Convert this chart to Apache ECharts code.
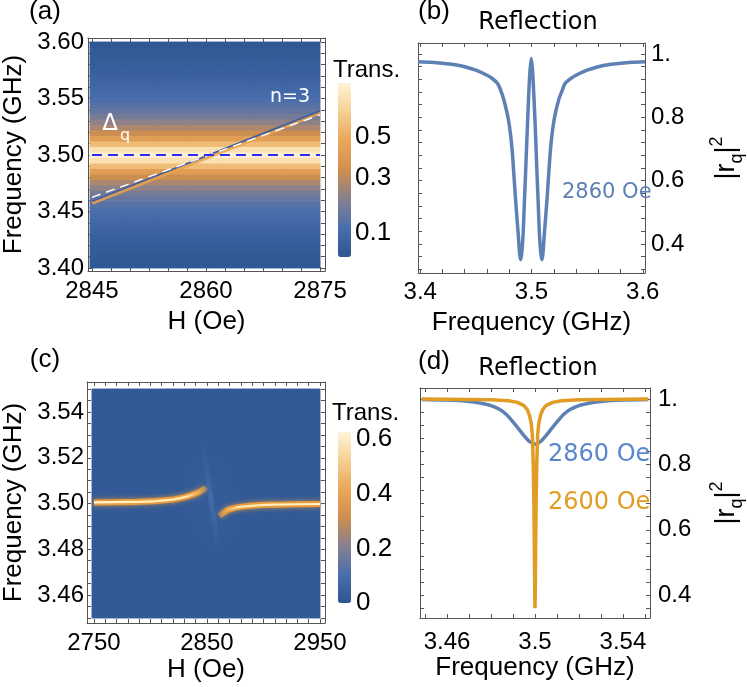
<!DOCTYPE html>
<html>
<head>
<meta charset="utf-8">
<script src="https://cdn.jsdelivr.net/npm/echarts@6/dist/echarts.min.js"></script>
<style>
html, body { margin: 0; padding: 0; background: #fff; }
#chart { width: 747px; height: 687px; }
</style>
</head>
<body>
<div id="chart"></div>
<script>
// ---- (a) transmission map: band profile vs frequency (same for every H column)
var freqA = [3.400, 3.405, 3.410, 3.415, 3.420, 3.425, 3.430, 3.435, 3.440, 3.445,
             3.450, 3.455, 3.460, 3.465, 3.470, 3.475, 3.480, 3.485, 3.490, 3.495,
             3.500, 3.505, 3.510, 3.515, 3.520, 3.525, 3.530, 3.535, 3.540, 3.545,
             3.550, 3.555, 3.560, 3.565, 3.570, 3.575, 3.580, 3.585, 3.590, 3.595, 3.600];
var transA = [0.050, 0.053, 0.057, 0.061, 0.066, 0.071, 0.077, 0.084, 0.093, 0.104,
              0.118, 0.135, 0.156, 0.183, 0.225, 0.272, 0.330, 0.420, 0.560, 0.720,
              0.800, 0.720, 0.560, 0.420, 0.330, 0.272, 0.225, 0.183, 0.156, 0.135,
              0.118, 0.104, 0.093, 0.084, 0.077, 0.071, 0.066, 0.061, 0.057, 0.053, 0.050];
var fieldA = [2845, 2850, 2855, 2860, 2865, 2870, 2875];
var modeA = [[2845, 3.459], [2875, 3.539]];
var modeEdgeA = [[2845, 3.4575], [2875, 3.5375]];
var nModeA = [[2845, 3.4625], [2875, 3.5355]];
var cavityA = [[2845, 3.50], [2875, 3.50]];

// ---- (b) reflection at 2860 Oe
var freqB = [3.398, 3.41, 3.42, 3.43, 3.44, 3.45, 3.46, 3.465, 3.4695, 3.4725, 3.4752, 3.4794, 3.4825, 3.4857,
             3.488, 3.4893, 3.4902, 3.4912, 3.4925, 3.4937, 3.4949, 3.4962, 3.4973, 3.4985, 3.4998,
             3.5011, 3.5023, 3.5035, 3.5047, 3.5059, 3.5071, 3.5084, 3.5094, 3.5103, 3.5116,
             3.5139, 3.5171, 3.5202, 3.5244, 3.5275, 3.5301, 3.535, 3.54, 3.55, 3.56, 3.57, 3.58, 3.59, 3.602];
var reflB = [0.976, 0.974, 0.971, 0.967, 0.960, 0.949, 0.933, 0.922, 0.907, 0.884, 0.855, 0.79, 0.70, 0.539,
             0.434, 0.37, 0.35, 0.37, 0.434, 0.54, 0.644, 0.76, 0.855, 0.94, 0.986,
             0.94, 0.855, 0.76, 0.644, 0.54, 0.434, 0.37, 0.35, 0.37, 0.434,
             0.539, 0.70, 0.79, 0.855, 0.884, 0.907, 0.922, 0.933, 0.949, 0.960, 0.967, 0.971, 0.974, 0.976];

// ---- (c) anticrossing map
var fieldC = [2750, 2775, 2800, 2825, 2850, 2875, 2900, 2925, 2950];
var freqC = [3.45, 3.475, 3.50, 3.525, 3.55];
var backgroundTransC = 0.02;
var branchLeftH = [2750, 2786, 2815, 2830, 2838, 2845, 2849];
var branchLeftF = [3.5005, 3.5007, 3.5015, 3.5028, 3.504, 3.5055, 3.507];
var branchRightH = [2861, 2864, 2870, 2886, 2909, 2950];
var branchRightF = [3.4945, 3.4958, 3.4975, 3.4989, 3.4995, 3.4998];
var glowC = [[2847, 3.525], [2860, 3.479]];

// ---- (d) reflection at 2860 Oe and 2600 Oe
var freqD1 = [3.4485, 3.46, 3.47, 3.475, 3.48, 3.484, 3.487, 3.489, 3.491, 3.493, 3.495, 3.497, 3.499, 3.5,
              3.501, 3.503, 3.505, 3.507, 3.509, 3.511, 3.513, 3.516, 3.52, 3.525, 3.53, 3.54, 3.5515];
var reflD1 = [0.999, 0.997, 0.993, 0.988, 0.980, 0.968, 0.953, 0.938, 0.922, 0.905, 0.888, 0.873, 0.864, 0.862,
              0.864, 0.873, 0.888, 0.905, 0.922, 0.938, 0.953, 0.968, 0.980, 0.988, 0.993, 0.997, 0.999];
var freqD2 = [3.4485, 3.47, 3.48, 3.488, 3.492, 3.495, 3.4965, 3.4975, 3.4983, 3.4988, 3.4992, 3.4995, 3.4997, 3.4999, 3.5,
              3.5001, 3.5003, 3.5005, 3.5008, 3.5012, 3.5017, 3.5025, 3.5035, 3.505, 3.508, 3.512, 3.52, 3.53, 3.5515];
var reflD2 = [1.0, 0.999, 0.998, 0.995, 0.990, 0.980, 0.968, 0.950, 0.925, 0.89, 0.80, 0.68, 0.55, 0.40, 0.36,
              0.40, 0.55, 0.68, 0.80, 0.89, 0.925, 0.950, 0.968, 0.980, 0.990, 0.995, 0.998, 0.999, 1.0];

// ---- ticks and tick labels
var ticksHA = [2845, 2847.5, 2850, 2852.5, 2855, 2857.5, 2860, 2862.5, 2865, 2867.5, 2870, 2872.5, 2875];
var labelsHA = [2845, 2860, 2875];
var ticksFA = [3.40, 3.41, 3.42, 3.43, 3.44, 3.45, 3.46, 3.47, 3.48, 3.49, 3.50,
               3.51, 3.52, 3.53, 3.54, 3.55, 3.56, 3.57, 3.58, 3.59, 3.60];
var labelsFA = [3.40, 3.45, 3.50, 3.55, 3.60];
var ticksFB = [3.40, 3.42, 3.44, 3.46, 3.48, 3.50, 3.52, 3.54, 3.56, 3.58, 3.60];
var labelsFB = [3.4, 3.5, 3.6];
var ticksRB = [0.32, 0.36, 0.40, 0.44, 0.48, 0.52, 0.56, 0.60, 0.64, 0.68, 0.72, 0.76, 0.80, 0.84, 0.88, 0.92, 0.96, 1.00];
var labelsR = [0.4, 0.6, 0.8, 1.0];
var ticksHC = [2750, 2760, 2770, 2780, 2790, 2800, 2810, 2820, 2830, 2840, 2850,
               2860, 2870, 2880, 2890, 2900, 2910, 2920, 2930, 2940, 2950];
var labelsHC = [2750, 2850, 2950];
var ticksFC = [3.45, 3.455, 3.46, 3.465, 3.47, 3.475, 3.48, 3.485, 3.49, 3.495, 3.50,
               3.505, 3.51, 3.515, 3.52, 3.525, 3.53, 3.535, 3.54, 3.545, 3.55];
var labelsFC = [3.46, 3.48, 3.50, 3.52, 3.54];
var ticksFD = [3.45, 3.46, 3.47, 3.48, 3.49, 3.50, 3.51, 3.52, 3.53, 3.54, 3.55];
var labelsFD = [3.46, 3.5, 3.54];
var ticksRD = [0.36, 0.40, 0.44, 0.48, 0.52, 0.56, 0.60, 0.64, 0.68, 0.72, 0.76, 0.80, 0.84, 0.88, 0.92, 0.96, 1.00];
var cbarLabelsA = [0.1, 0.3, 0.5];
var cbarLabelsC = [0, 0.2, 0.4, 0.6];
var cbarRangeA = [0.042, 0.82];
var cbarRangeC = [0, 0.626];
var cbarExpA = 0.6;   // colour bar (a) is not linear

var palette = ['#2c5591', '#4a6ead', '#86808f', '#cf8e4f', '#e9a75a', '#f5cf93', '#fff5d8'];
var blue = '#5e81b5', orange = '#e19c24';
var axisColor = '#555';
var labelFont = "'Liberation Sans', Arial, sans-serif";
var textFont = "'DejaVu Sans', Verdana, sans-serif";

function sA(t) { return Math.pow(t, cbarExpA); }
function zip(xs, ys) { return xs.map(function (x, i) { return [x, ys[i]]; }); }
function fmtR(v) { return v === 1 ? '1.' : v.toFixed(1); }

function valueAxis(grid, pos, min, max, ticks, labels, fmt, margin, extra) {
  var ax = {
    gridIndex: grid, type: 'value', position: pos, min: min, max: max,
    splitLine: { show: false },
    axisLine: { show: true, onZero: false, lineStyle: { color: axisColor, width: 1 } },
    axisTick: { show: true, inside: true, length: 4, customValues: ticks, lineStyle: { color: axisColor } },
    axisLabel: labels ? {
      show: true, customValues: labels, formatter: fmt, fontSize: 24, color: '#000',
      fontFamily: labelFont, margin: margin
    } : { show: false }
  };
  for (var k in extra) ax[k] = extra[k];
  return ax;
}
var nameStyle = { fontSize: 26, color: '#000', fontFamily: labelFont };
var rName = {
  name: '|r{q|q}|{s|2}', nameLocation: 'middle',
  nameTextStyle: {
    fontSize: 27, color: '#000', fontFamily: labelFont, lineHeight: 38,
    rich: {
      q: { fontSize: 18, fontFamily: labelFont, color: '#000', lineHeight: 14, verticalAlign: 'bottom' },
      s: { fontSize: 18, fontFamily: labelFont, color: '#000', lineHeight: 14, verticalAlign: 'top' }
    }
  }
};
function hiddenCat(grid, data) { return { gridIndex: grid, type: 'category', data: data.map(String), show: false }; }
function hiddenVal(grid) { return { gridIndex: grid, type: 'value', show: false }; }

// heatmap tables built from the arrays
var heatA = [];
freqA.forEach(function (f, i) {
  fieldA.forEach(function (h, j) { heatA.push([j, i, transA[i], sA(transA[i])]); });
});
var heatC = [];
freqC.forEach(function (f, i) {
  fieldC.forEach(function (h, j) { heatC.push([j, i, backgroundTransC]); });
});

function hGrad(stops) {
  return { type: 'linear', x: 0, y: 0, x2: 1, y2: 0, colorStops: stops };
}
function lineS(xi, yi, data, style, extra) {
  var s = { type: 'line', xAxisIndex: xi, yAxisIndex: yi, data: data, symbol: 'none',
            silent: true, animation: false, lineStyle: style, z: 3 };
  for (var k in extra) s[k] = extra[k];
  return s;
}
// heatmaps are drawn twice so the anti-aliased seams between cells disappear
function heat(ai, data) {
  return { type: 'heatmap', xAxisIndex: ai, yAxisIndex: ai, data: data, silent: true, z: 1 };
}

var chart = echarts.init(document.getElementById('chart'), null, { renderer: 'canvas' });
chart.setOption({
  backgroundColor: '#fff',
  animation: false,
  grid: [
    { left: 86, top: 38, width: 239, height: 233 },   // 0 (a) frame
    { left: 90, top: 42, width: 230, height: 226 },   // 1 (a) heatmap
    { left: 338, top: 83, width: 13, height: 174 },   // 2 (a) colour bar labels
    { left: 418, top: 43, width: 239, height: 230 },  // 3 (b)
    { left: 85, top: 382, width: 240, height: 241 },  // 4 (c) frame
    { left: 92, top: 389, width: 228, height: 229 },  // 5 (c) heatmap
    { left: 338, top: 432, width: 13, height: 171 },  // 6 (c) colour bar labels
    { left: 420, top: 388, width: 238, height: 230 }  // 7 (d)
  ],
  xAxis: [
    valueAxis(0, 'bottom', 2844.48, 2875.65, ticksHA, labelsHA, String, 8,
      { name: 'H (Oe)', nameLocation: 'middle', nameGap: 38, nameTextStyle: nameStyle }),
    valueAxis(0, 'top', 2844.48, 2875.65, ticksHA, null),
    hiddenCat(1, fieldA),
    hiddenVal(2),
    valueAxis(3, 'bottom', 3.398, 3.602, ticksFB, labelsFB, function (v) { return v.toFixed(1); }, 7,
      { name: 'Frequency (GHz)', nameLocation: 'middle', nameGap: 37, nameTextStyle: nameStyle }),
    valueAxis(3, 'top', 3.398, 3.602, ticksFB, null),
    valueAxis(4, 'bottom', 2743.9, 2954.4, ticksHC, labelsHC, String, 8,
      { name: 'H (Oe)', nameLocation: 'middle', nameGap: 34, nameTextStyle: nameStyle }),
    valueAxis(4, 'top', 2743.9, 2954.4, ticksHC, null),
    hiddenCat(5, fieldC),
    hiddenVal(6),
    valueAxis(7, 'bottom', 3.4477, 3.5523, ticksFD, labelsFD, function (v) { return String(+v.toFixed(2)); }, 12,
      { name: 'Frequency (GHz)', nameLocation: 'middle', nameGap: 34, nameTextStyle: nameStyle }),
    valueAxis(7, 'top', 3.4477, 3.5523, ticksFD, null)
  ],
  yAxis: [
    valueAxis(0, 'left', 3.3973, 3.6035, ticksFA, labelsFA, function (v) { return v.toFixed(2); }, 4,
      { name: 'Frequency (GHz)', nameLocation: 'middle', nameGap: 61, nameTextStyle: nameStyle }),
    valueAxis(0, 'right', 3.3973, 3.6035, ticksFA, null),
    hiddenCat(1, freqA),
    {
      gridIndex: 2, type: 'value', position: 'right', min: sA(cbarRangeA[0]), max: sA(cbarRangeA[1]),
      splitLine: { show: false }, axisLine: { show: false }, axisTick: { show: false },
      axisLabel: {
        customValues: cbarLabelsA.map(sA), margin: 4, fontSize: 26, color: '#000', fontFamily: labelFont,
        formatter: function (v) { return Math.pow(v, 1 / cbarExpA).toFixed(1); }
      }
    },
    valueAxis(3, 'left', 0.308, 1.035, ticksRB, null),
    valueAxis(3, 'right', 0.308, 1.035, ticksRB, labelsR, fmtR, 6, Object.assign({ nameGap: 63 }, rName)),
    valueAxis(4, 'left', 3.4478, 3.5531, ticksFC, labelsFC, function (v) { return v.toFixed(2); }, 3,
      { name: 'Frequency (GHz)', nameLocation: 'middle', nameGap: 60, nameTextStyle: nameStyle }),
    valueAxis(4, 'right', 3.4478, 3.5531, ticksFC, null),
    hiddenCat(5, freqC),
    {
      gridIndex: 6, type: 'value', position: 'right', min: cbarRangeC[0], max: cbarRangeC[1],
      splitLine: { show: false }, axisLine: { show: false }, axisTick: { show: false },
      axisLabel: {
        customValues: cbarLabelsC, margin: 5, fontSize: 26, color: '#000', fontFamily: labelFont,
        formatter: function (v) { return v === 0 ? '0' : v.toFixed(1); }
      }
    },
    valueAxis(7, 'left', 0.33, 1.034, ticksRD, null),
    valueAxis(7, 'right', 0.33, 1.034, ticksRD, labelsR, fmtR, 8, Object.assign({ nameGap: 58 }, rName))
  ],
  visualMap: [
    {
      type: 'continuous', seriesIndex: [0, 1], dimension: 3, min: sA(cbarRangeA[0]), max: sA(cbarRangeA[1]),
      inRange: { color: palette }, calculable: false, orient: 'vertical', hoverLink: false,
      left: 338, top: 83, itemWidth: 13, itemHeight: 174, padding: 0
    },
    {
      type: 'continuous', seriesIndex: [6, 7], dimension: 2, min: cbarRangeC[0], max: cbarRangeC[1],
      inRange: { color: palette }, calculable: false, orient: 'vertical', hoverLink: false,
      left: 338, top: 432, itemWidth: 13, itemHeight: 171, padding: 0
    }
  ],
  series: [
    // 0-1 (a) heatmap
    heat(2, heatA),
    heat(2, heatA),
    // 2-4 (a) mode lines
    lineS(0, 0, modeEdgeA, { color: '#eaa24c', width: 4, opacity: 0.85 }),
    lineS(0, 0, modeA, { color: '#3f5fa3', width: 1.8 }),
    lineS(0, 0, nModeA, { color: '#ffffff', width: 1.4, type: [9, 6] }),
    // 5 (b) reflection
    lineS(4, 5, zip(freqB, reflB), { color: blue, width: 3.5 }, { smooth: 0.25 }),
    // 6-7 (c) heatmap
    heat(8, heatC),
    heat(8, heatC),
    // 8 (c) diffuse glow along the steep mode
    lineS(6, 6, glowC, {
      width: 5, shadowBlur: 26, shadowColor: 'rgba(115,150,220,1)',
      color: { type: 'linear', x: 0, y: 0, x2: 0, y2: 1, colorStops: [
        { offset: 0, color: 'rgba(100,135,205,0)' },
        { offset: 0.5, color: 'rgba(100,135,205,0.3)' },
        { offset: 1, color: 'rgba(100,135,205,0)' }] }
    }, { z: 2 }),
    // 9-12 (c) hybrid branches
    lineS(6, 6, zip(branchLeftH, branchLeftF), {
      width: 6, shadowBlur: 5, shadowColor: 'rgba(233,156,60,0.8)',
      color: hGrad([{ offset: 0, color: '#e99c3c' }, { offset: 0.9, color: '#e99c3c' }, { offset: 1, color: 'rgba(220,150,70,0.35)' }])
    }, { smooth: true }),
    lineS(6, 6, zip(branchLeftH, branchLeftF), {
      width: 2.2,
      color: hGrad([{ offset: 0, color: '#fff3cc' }, { offset: 0.82, color: '#ffe9b0' }, { offset: 1, color: 'rgba(240,170,80,0)' }])
    }, { smooth: true }),
    lineS(6, 6, zip(branchRightH, branchRightF), {
      width: 6, shadowBlur: 5, shadowColor: 'rgba(233,156,60,0.8)',
      color: hGrad([{ offset: 0, color: 'rgba(220,150,70,0.35)' }, { offset: 0.1, color: '#e99c3c' }, { offset: 1, color: '#e99c3c' }])
    }, { smooth: true }),
    lineS(6, 6, zip(branchRightH, branchRightF), {
      width: 2.2,
      color: hGrad([{ offset: 0, color: 'rgba(240,170,80,0)' }, { offset: 0.2, color: '#ffe9b0' }, { offset: 1, color: '#fff3cc' }])
    }, { smooth: true }),
    // 13-14 (d) reflection
    lineS(10, 11, zip(freqD1, reflD1), { color: blue, width: 3.5 }, { smooth: 0.3 }),
    lineS(10, 11, zip(freqD2, reflD2), { color: orange, width: 3.5 }, { z: 4 }),
    // 15 (a) cavity line
    lineS(0, 0, cavityA, { color: '#2c2cf5', width: 2, type: [10, 6] })
  ],
  graphic: [
    { type: 'text', x: 45, y: 12, style: { text: '(a)', font: '26px ' + labelFont, fill: '#000', align: 'center', verticalAlign: 'middle' } },
    { type: 'text', x: 434, y: 12, style: { text: '(b)', font: '26px ' + labelFont, fill: '#000', align: 'center', verticalAlign: 'middle' } },
    { type: 'text', x: 45, y: 360, style: { text: '(c)', font: '26px ' + labelFont, fill: '#000', align: 'center', verticalAlign: 'middle' } },
    { type: 'text', x: 434, y: 362, style: { text: '(d)', font: '26px ' + labelFont, fill: '#000', align: 'center', verticalAlign: 'middle' } },
    { type: 'text', x: 538, y: 23, style: { text: 'Reflection', font: '24px ' + textFont, fill: '#000', align: 'center', verticalAlign: 'middle' } },
    { type: 'text', x: 538, y: 369, style: { text: 'Reflection', font: '24px ' + textFont, fill: '#000', align: 'center', verticalAlign: 'middle' } },
    { type: 'text', x: 333, y: 70, style: { text: 'Trans.', font: '24px ' + labelFont, fill: '#000', align: 'left', verticalAlign: 'middle' } },
    { type: 'text', x: 332, y: 413, style: { text: 'Trans.', font: '24px ' + labelFont, fill: '#000', align: 'left', verticalAlign: 'middle' } },
    { type: 'text', x: 290, y: 97, z: 10, style: { text: 'n=3', font: '19px ' + textFont, fill: '#fff', align: 'center', verticalAlign: 'middle' } },
    { type: 'text', x: 110, y: 124, z: 10, style: { text: 'Δ', font: '23px ' + textFont, fill: '#fff', align: 'center', verticalAlign: 'middle' } },
    { type: 'text', x: 125, y: 136, z: 10, style: { text: 'q', font: '16px ' + textFont, fill: '#fff', align: 'center', verticalAlign: 'middle' } },
    { type: 'text', x: 562, y: 193, z: 10, style: { text: '2860 Oe', font: '21px ' + textFont, fill: blue, align: 'left', verticalAlign: 'middle' } },
    { type: 'text', x: 548, y: 455, z: 10, style: { text: '2860 Oe', font: '24px ' + textFont, fill: '#5a86cc', align: 'left', verticalAlign: 'middle' } },
    { type: 'text', x: 548, y: 503, z: 10, style: { text: '2600 Oe', font: '24px ' + textFont, fill: orange, align: 'left', verticalAlign: 'middle' } }
  ]
});
</script>
</body>
</html>
